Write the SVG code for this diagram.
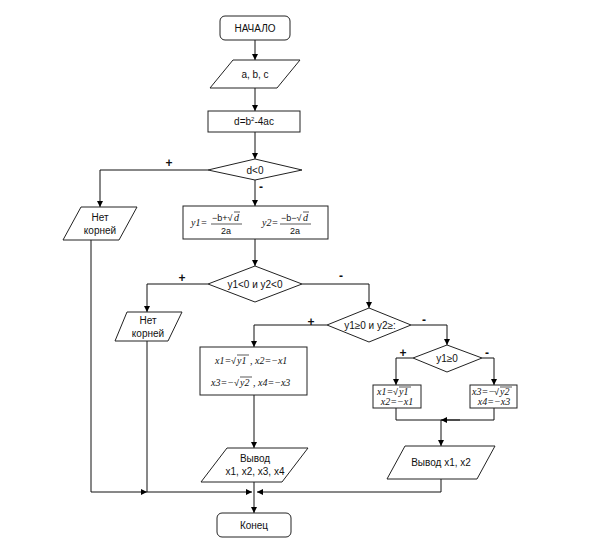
<svg xmlns="http://www.w3.org/2000/svg" width="602" height="553" viewBox="0 0 602 553">
<defs>
<marker id="ah" viewBox="0 0 10 10" refX="10" refY="5" markerWidth="6" markerHeight="7" orient="auto" markerUnits="userSpaceOnUse">
<path d="M0,0 L10,5 L0,10 z" fill="#000"/>
</marker>
</defs>
<style>
.s{fill:#fff;stroke:#222;stroke-width:1}
.t{font-family:"Liberation Sans",Arial,sans-serif;font-size:10px;fill:#111;text-anchor:middle}
.m{font-family:"Liberation Serif","Times New Roman",serif;font-size:10px;font-style:italic;fill:#111}
.mu{font-family:"Liberation Sans",Arial,sans-serif;font-size:9px;fill:#111}
.c{fill:none;stroke:#111;stroke-width:1}
.a{fill:none;stroke:#111;stroke-width:1;marker-end:url(#ah)}
.l{font-family:"Liberation Sans",Arial,sans-serif;font-size:12px;font-weight:bold;fill:#111;text-anchor:middle}
.ml{stroke:#111;stroke-width:0.7}
</style>
<rect width="602" height="553" fill="#fff"/>
<g id="connectors">
<path class="a" d="M255,40 V60"/>
<path class="a" d="M255,88 V111"/>
<path class="a" d="M255,132 V159"/>
<path class="a" d="M208,170 H100 V207"/>
<path class="a" d="M255,180 V206"/>
<path class="a" d="M255,239 V266"/>
<path class="a" d="M208,284 H147 V312"/>
<path class="a" d="M302,284 H369 V308"/>
<path class="a" d="M327,325 H254 V347"/>
<path class="a" d="M411,325 H447 V345"/>
<path class="a" d="M413,358 H396 V385"/>
<path class="a" d="M482,358 H494 V385"/>
<path class="c" d="M396,408 V420 H494 V408"/>
<path class="a" d="M460,420 H441"/>
<path class="a" d="M441,420 V446"/>
<path class="a" d="M254,395 V448"/>
<path class="a" d="M91,240 V492 H147"/>
<path class="c" d="M147,341 V492"/>
<path class="a" d="M147,492 H252"/>
<path class="a" d="M441,479 V492 H257"/>
<path class="a" d="M254,482 V513"/>
<text class="l" x="169" y="167">+</text>
<text class="l" x="261" y="191">-</text>
<text class="l" x="182" y="282">+</text>
<text class="l" x="341" y="280">-</text>
<text class="l" x="311" y="326">+</text>
<text class="l" x="424" y="324">-</text>
<text class="l" x="403" y="357">+</text>
<text class="l" x="487" y="357">-</text>
</g>
<g id="start">
<rect class="s" x="220" y="16" width="70" height="24" rx="5"/>
<text class="t" x="255" y="32">НАЧАЛО</text>
</g>
<g id="input">
<polygon class="s" points="233,60 300,60 277,88 210,88"/>
<text class="t" x="255" y="78">a, b, c</text>
</g>
<g id="calc-d">
<rect class="s" x="208" y="111" width="92" height="21"/>
<text class="t" x="254" y="125">d=b<tspan font-size="6" dy="-4">2</tspan><tspan dy="4">-4ac</tspan></text>
</g>
<g id="cond-d">
<polygon class="s" points="255,159 302,170 255,180 208,170"/>
<text class="t" x="255" y="174">d&lt;0</text>
</g>
<g id="no-roots-1">
<polygon class="s" points="81,207 137,207 119,240 63,240"/>
<text class="t" x="100" y="221">Нет</text>
<text class="t" x="100" y="234">корней</text>
</g>
<g id="calc-y">
<rect class="s" x="183" y="206" width="145" height="33"/>
<text class="m" x="191" y="226">y1=</text>
<text class="mu" x="212" y="221">−b+√</text>
<line class="ml" x1="234" y1="212" x2="240" y2="212"/>
<text class="m" x="234" y="221">d</text>
<line class="ml" x1="211" y1="224" x2="242" y2="224"/>
<text class="mu" x="221" y="234">2a</text>
<text class="m" x="262" y="226">y2=</text>
<text class="mu" x="281" y="221">−b−√</text>
<line class="ml" x1="303" y1="212" x2="309" y2="212"/>
<text class="m" x="303" y="221">d</text>
<line class="ml" x1="280" y1="224" x2="311" y2="224"/>
<text class="mu" x="290" y="234">2a</text>
</g>
<g id="cond-y-neg">
<polygon class="s" points="255,266 302,284 255,302 208,284"/>
<text class="t" x="255" y="288">y1&lt;0 и y2&lt;0</text>
</g>
<g id="no-roots-2">
<polygon class="s" points="127,312 182,312 168,341 115,341"/>
<text class="t" x="148" y="324">Нет</text>
<text class="t" x="148" y="337">корней</text>
</g>
<g id="cond-y-pos">
<polygon class="s" points="369,308 411,325 369,342 327,325"/>
<text class="t" x="370" y="329">y1≥0 и y2≥:</text>
</g>
<g id="calc-x4">
<rect class="s" x="200" y="347" width="107" height="48"/>
<text class="m" x="215" y="364">x1=</text>
<text class="mu" x="231" y="364">√</text>
<line class="ml" x1="237" y1="355" x2="249" y2="355"/>
<text class="m" x="237" y="364">y1</text>
<text class="m" x="250" y="364">, x2=−x1</text>
<text class="m" x="211" y="386">x3=−</text>
<text class="mu" x="234" y="386">√</text>
<line class="ml" x1="240" y1="377" x2="252" y2="377"/>
<text class="m" x="240" y="386">y2</text>
<text class="m" x="253" y="386">, x4=−x3</text>
</g>
<g id="cond-y1">
<polygon class="s" points="447,345 482,358 447,372 413,358"/>
<text class="t" x="447" y="362">y1≥0</text>
</g>
<g id="calc-x12">
<rect class="s" x="373" y="385" width="48" height="23"/>
<text class="m" x="377" y="395">x1=</text>
<text class="mu" x="393" y="395">√</text>
<line class="ml" x1="399" y1="387" x2="411" y2="387"/>
<text class="m" x="399" y="395">y1</text>
<text class="m" x="397" y="405" text-anchor="middle">x2=−x1</text>
</g>
<g id="calc-x34">
<rect class="s" x="470" y="385" width="47" height="23"/>
<text class="m" x="472" y="395">x3=−</text>
<text class="mu" x="494" y="395">√</text>
<line class="ml" x1="500" y1="387" x2="512" y2="387"/>
<text class="m" x="500" y="395">y2</text>
<text class="m" x="494" y="405" text-anchor="middle">x4=−x3</text>
</g>
<g id="output-4">
<polygon class="s" points="227,448 308,448 282,482 201,482"/>
<text class="t" x="255" y="462">Вывод</text>
<text class="t" x="255" y="475">x1, x2, x3, x4</text>
</g>
<g id="output-2">
<polygon class="s" points="405,446 495,446 477,479 387,479"/>
<text class="t" x="441" y="466">Вывод x1, x2</text>
</g>
<g id="end">
<rect class="s" x="217" y="513" width="74" height="24" rx="5"/>
<text class="t" x="254" y="529">Конец</text>
</g>
</svg>
